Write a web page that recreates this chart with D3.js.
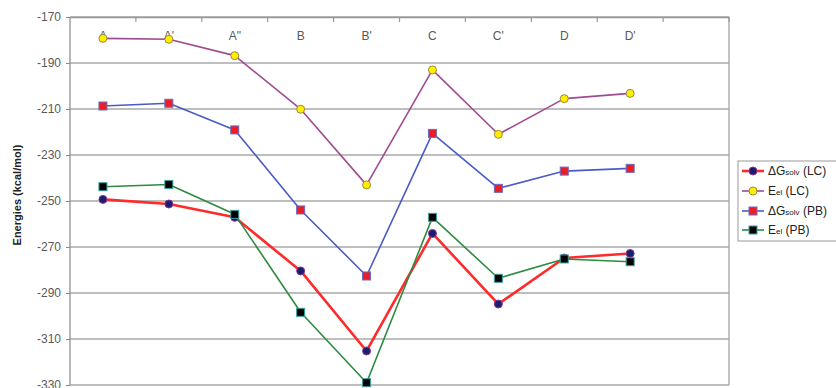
<!DOCTYPE html>
<html><head><meta charset="utf-8">
<script src="https://cdn.jsdelivr.net/npm/d3@7"></script>
<style>body{margin:0;background:#fff;}svg{display:block;font-family:Arial,"Liberation Sans",sans-serif;}</style>
</head><body>
<svg id="c" width="836" height="388"></svg>
<script>
const categories = ["A","A'","A\"","B","B'","C","C'","D","D'"];
const yTicks = [-170,-190,-210,-230,-250,-270,-290,-310,-330];
const dGsolvLC = [-249.3,-251.3,-257.1,-280.4,-315.2,-264.1,-294.8,-274.8,-272.8];
const EelLC    = [-179.3,-179.7,-186.8,-210.1,-243.0,-193.0,-221.0,-205.5,-203.2];
const dGsolvPB = [-208.7,-207.5,-219.1,-253.9,-282.6,-220.6,-244.5,-237.0,-235.8];
const EelPB    = [-243.8,-242.8,-255.8,-298.4,-329.0,-257.1,-283.6,-275.2,-276.4];

const series = [
  {main:"\u0394G", sub:"solv", tail:" (LC)", values:dGsolvLC, line:"#ff2a2a", lw:2.6, shape:"circle", fill:"#1c1c70", stroke:"#8a3a8a"},
  {main:"E", sub:"el", tail:" (LC)", values:EelLC, line:"#a04a90", lw:1.6, shape:"circle", fill:"#ffee00", stroke:"#9a8a40"},
  {main:"\u0394G", sub:"solv", tail:" (PB)", values:dGsolvPB, line:"#4a5cc4", lw:1.6, shape:"square", fill:"#ee1c24", stroke:"#6a6ac0"},
  {main:"E", sub:"el", tail:" (PB)", values:EelPB, line:"#2e8a40", lw:1.6, shape:"square", fill:"#000000", stroke:"#3aa0a0"}
];

const svg = d3.select("#c");
const L=70, R=729, T=17, B=385;
const x = d3.scaleBand().domain([...categories, ""]).range([L,R]).padding(0);
const y = d3.scaleLinear().domain([-170,-330]).range([T,B]);
const FF = "Arial, 'Liberation Sans', sans-serif";

svg.append("g").selectAll("line").data(yTicks).join("line")
  .attr("x1",L).attr("x2",R).attr("y1",d=>y(d)).attr("y2",d=>y(d))
  .attr("stroke","#a8a8a8").attr("stroke-width",1.4);
svg.append("line").attr("x1",L).attr("x2",L).attr("y1",T).attr("y2",B).attr("stroke","#999").attr("stroke-width",1.4);
svg.append("line").attr("x1",R).attr("x2",R).attr("y1",T).attr("y2",B).attr("stroke","#aaa").attr("stroke-width",1.4);

const ya = svg.append("g").attr("transform",`translate(${L},0)`)
  .call(d3.axisLeft(y).tickValues(yTicks).tickFormat(d=>String(d)).tickSize(4).tickPadding(5));
ya.select(".domain").remove();
ya.selectAll(".tick line").attr("stroke","#888");
ya.selectAll(".tick text").attr("fill","#5a5a5a").style("font-size","12px").style("font-family",FF);

const xa = svg.append("g").attr("transform",`translate(0,${T})`)
  .call(d3.axisBottom(x).tickSize(0).tickPadding(14));
xa.select(".domain").attr("stroke","#999").attr("stroke-width",1.4);
xa.selectAll(".tick text").attr("fill","#5a5a5a").style("font-size","12px").style("font-family",FF);
svg.append("g").selectAll("line").data(x.domain()).join("line")
  .attr("x1",d=>x(d)+x.bandwidth()).attr("x2",d=>x(d)+x.bandwidth())
  .attr("y1",T).attr("y2",T+5).attr("stroke","#999").attr("stroke-width",1.2);

svg.append("text").attr("transform","translate(21,195) rotate(-90)")
  .attr("text-anchor","middle").attr("font-weight","bold").attr("font-size","11px").attr("fill","#222")
  .text("Energies (kcal/mol)");

const cx = d => x(d)+x.bandwidth()/2;
const line = d3.line().x((v,i)=>cx(categories[i])).y(v=>y(v));

function marker(g, shape, fill, stroke){
  if(shape==="circle"){
    return g.append("circle").attr("r",4).attr("fill",fill).attr("stroke",stroke).attr("stroke-width",1);
  } else {
    return g.append("rect").attr("x",-4).attr("y",-4).attr("width",8).attr("height",8).attr("fill",fill).attr("stroke",stroke).attr("stroke-width",1);
  }
}

series.forEach(s=>{
  const g = svg.append("g");
  g.append("path").datum(s.values).attr("d",line).attr("fill","none").attr("stroke",s.line).attr("stroke-width",s.lw).attr("stroke-linejoin","round");
  s.values.forEach((v,i)=>{
    const mg = g.append("g").attr("transform",`translate(${cx(categories[i])},${y(v)})`);
    marker(mg, s.shape, s.fill, s.stroke);
  });
});

const lg = svg.append("g");
lg.append("rect").attr("x",738).attr("y",161).attr("width",110).attr("height",80).attr("fill","#fff").attr("stroke","#999").attr("stroke-width",1);
const ly = [171,191,211,230];
series.forEach((s,i)=>{
  const g = lg.append("g").attr("transform",`translate(0,${ly[i]})`);
  g.append("line").attr("x1",742).attr("x2",764).attr("y1",0).attr("y2",0).attr("stroke",s.line).attr("stroke-width",s.lw);
  const mg = g.append("g").attr("transform","translate(753,0)");
  marker(mg, s.shape, s.fill, s.stroke);
  const t = g.append("text").attr("x",768).attr("y",4).attr("font-size","12px").attr("fill","#222");
  t.append("tspan").text(s.main);
  t.append("tspan").attr("font-size","8px").text(s.sub);
  t.append("tspan").text(s.tail);
});
</script>
</body></html>
